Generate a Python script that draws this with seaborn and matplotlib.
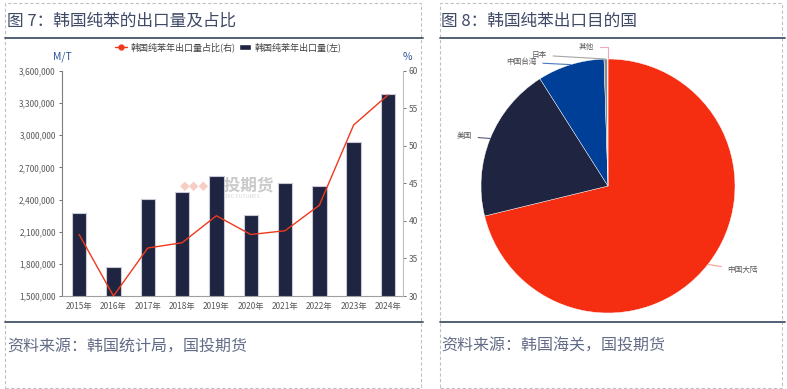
import numpy as np
import pandas as pd
import seaborn as sns
import matplotlib.pyplot as plt
from matplotlib.lines import Line2D
from matplotlib.patches import Patch, Rectangle
from matplotlib.ticker import FuncFormatter, MultipleLocator

# --- dados ---
years = ['2015年', '2016年', '2017年', '2018年', '2019年',
         '2020年', '2021年', '2022年', '2023年', '2024年']
export_vol = [2272000, 1775000, 2406000, 2475000, 2622000,
              2256000, 2550000, 2528000, 2934000, 3384000]
export_share = [38.2, 30.0, 36.4, 37.1, 40.7, 38.2, 38.7, 42.1, 52.8, 56.8]

dest_names = ['中国大陆', '美国', '中国台湾', '日本', '其他']
dest_share = [71.2, 19.8, 8.5, 0.4, 0.1]

# cores
navy = '#1f2541'
red = '#f0391c'
pie_colors = ['#f52e12', '#1f2541', '#003f98', '#8c8c8c', '#f4b6c4']
line_colors = ['#f7a08f', '#55597a', '#4a78c0', '#a6a6a6', '#f4a6b8']
title_c = '#3f4a66'
tick_c = '#595959'

sns.set_style('white')
plt.rcParams['font.family'] = ['Noto Sans CJK SC', 'DejaVu Sans']

W, H = 787, 389
fig = plt.figure(figsize=(W / 100, H / 100), dpi=100)


def fx(px):
    return px / W


def fy(py):
    return 1 - py / H


# --- molduras, títulos e fontes ---
for x0, x1 in [(5, 421), (440, 782)]:
    fig.add_artist(Rectangle((fx(x0), fy(388)), fx(x1 - x0), (388 - 3) / H,
                             transform=fig.transFigure, fill=False,
                             ec='#c0c0c0', lw=0.8, ls=(0, (3, 2))))
for x0, x1 in [(5, 423), (440, 785)]:
    for yy in (38, 322):
        fig.add_artist(Line2D([fx(x0), fx(x1)], [fy(yy), fy(yy)],
                              transform=fig.transFigure, color='#44546a', lw=1.3))

fig.text(fx(7), fy(21), '图 7：韩国纯苯的出口量及占比', fontsize=12,
         color=title_c, va='center')
fig.text(fx(441), fy(21), '图 8：韩国纯苯出口目的国', fontsize=12,
         color=title_c, va='center')
fig.text(fx(7), fy(346), '资料来源：韩国统计局，国投期货', fontsize=11.5,
         color='#636c86', va='center', style='italic')
fig.text(fx(441), fy(346), '资料来源：韩国海关，国投期货', fontsize=11.5,
         color='#636c86', va='center', style='italic')

# --- gráfico 1: barras + linha ---
ax = fig.add_axes([fx(62), fy(296), fx(402.7 - 62), (296 - 71) / H])

# marca d'água (atrás das barras)
ax.text(fx(241), fy(185), '国投期货', transform=fig.transFigure, fontsize=12,
        color='#cacaca', ha='center', va='center', fontweight='bold', zorder=0)
ax.text(fx(241), fy(197), 'SDIC FUTURES', transform=fig.transFigure,
        fontsize=4, color='#d6d6d6', ha='center', va='center', zorder=0)
ax.text(fx(195), fy(187), '◆◆◆', transform=fig.transFigure, fontsize=7,
        color='#f8cdc4', ha='center', va='center', zorder=0)

sns.barplot(x=years, y=export_vol, ax=ax, color=navy, width=0.42,
            saturation=1, edgecolor='#c9c9d6', linewidth=0.8, zorder=2)
ax.set_ylim(1500000, 3600000)
ax.yaxis.set_major_locator(MultipleLocator(300000))
ax.yaxis.set_major_formatter(FuncFormatter(lambda v, p: f'{int(v):,}'))
ax.set_xlabel('')
ax.set_ylabel('')

ax2 = ax.twinx()
sns.lineplot(x=np.arange(len(years)), y=export_share, ax=ax2,
             color=red, linewidth=1)
ax2.set_ylim(30, 60)
ax2.yaxis.set_major_locator(MultipleLocator(5))
ax.set_xlim(-0.5, 9.43)
ax2.set_ylabel('')

for a in (ax, ax2):
    a.spines['top'].set_visible(False)
    a.tick_params(labelsize=6, colors=tick_c, length=2.5, width=0.6, pad=2)
ax.spines['left'].set_color('#7f7f7f')
ax.spines['bottom'].set_color('#9f9f9f')
ax.spines['right'].set_visible(False)
ax2.spines['left'].set_visible(False)
ax2.spines['bottom'].set_visible(False)
ax2.spines['right'].set_color('#bfbfbf')
for a in (ax, ax2):
    for s in a.spines.values():
        s.set_linewidth(0.8)

handles = [Line2D([0], [0], color=red, marker='o', markersize=3.5, lw=1),
           Patch(facecolor=navy)]
fig.legend(handles, ['韩国纯苯年出口量占比(右)', '韩国纯苯年出口量(左)'],
           loc='center', bbox_to_anchor=(fx(228), fy(47)), ncol=2,
           frameon=False, fontsize=6.5, handlelength=1.4, handletextpad=0.3,
           columnspacing=0.4, labelcolor='#404040')

fig.text(fx(53), fy(57), 'M/T', fontsize=7.5, color='#2f5597', va='center')
fig.text(fx(403), fy(57), '%', fontsize=7.5, color='#2f5597', va='center')

# --- gráfico 2: pizza ---
r_px = 127
axp = fig.add_axes([fx(608 - r_px), fy(186 + r_px), fx(2 * r_px), 2 * r_px / H])
wedges, _ = axp.pie(dest_share, colors=pie_colors, startangle=90,
                    counterclock=False,
                    wedgeprops=dict(edgecolor='white', linewidth=0.3))
axp.set_xlim(-1, 1)
axp.set_ylim(-1, 1)
axp.set_aspect('equal')
axp.axis('off')

label_pos = {'中国大陆': (0.94, -0.66, 'left'),
             '美国': (-1.07, 0.39, 'right'),
             '中国台湾': (-0.56, 0.975, 'right'),
             '日本': (-0.48, 1.03, 'right'),
             '其他': (-0.11, 1.094, 'right')}
for w, name, lc in zip(wedges, dest_names, line_colors):
    ang = np.deg2rad((w.theta1 + w.theta2) / 2)
    tx, ty, ha = label_pos[name]
    conn = 'angle,angleA=0,angleB=90,rad=0' if name == '其他' else 'arc3'
    axp.annotate(name, xy=(np.cos(ang), np.sin(ang)), xytext=(tx, ty),
                 ha=ha, va='center', fontsize=5.5, color=tick_c,
                 annotation_clip=False,
                 arrowprops=dict(arrowstyle='-', color=lc, lw=0.8,
                                 shrinkA=2, shrinkB=0, connectionstyle=conn))

fig.savefig('out.png', dpi=100)
